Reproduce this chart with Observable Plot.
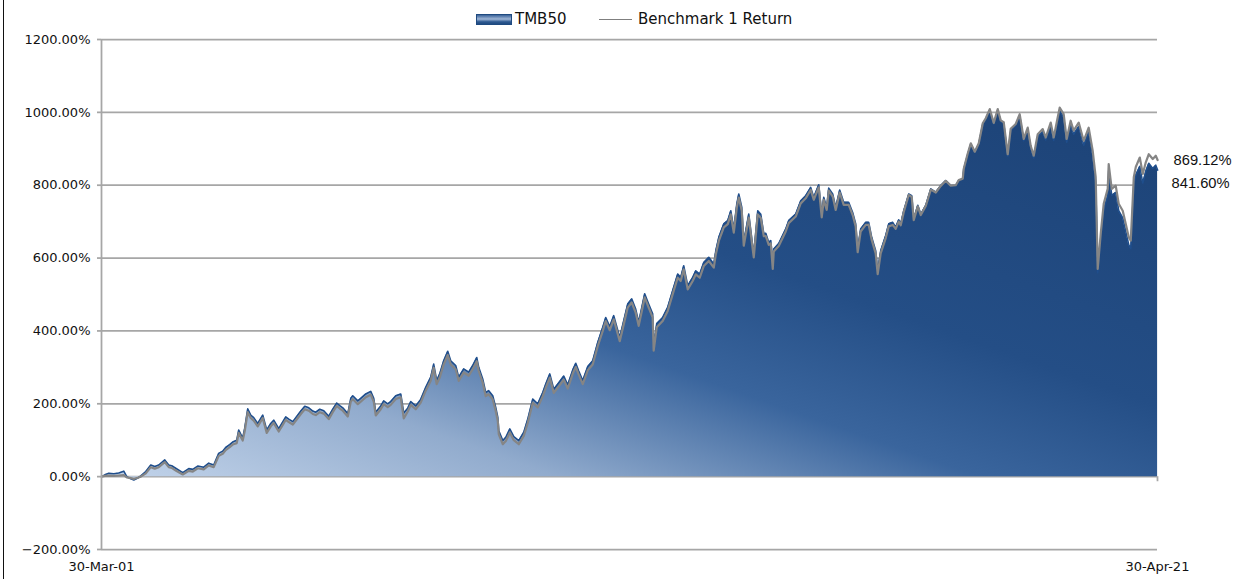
<!DOCTYPE html>
<html><head><meta charset="utf-8">
<script src="https://cdn.jsdelivr.net/npm/d3@7"></script>
<script src="https://cdn.jsdelivr.net/npm/@observablehq/plot@0.6"></script>
<style>
body{margin:0;background:#fff;}
#wrap{position:relative;width:1238px;height:579px;overflow:hidden;font-family:"DejaVu Sans",sans-serif;background:#fff;}
#border{position:absolute;left:3px;top:0;width:1px;height:579px;background:#111;z-index:5;}
#legend{position:relative;height:30px;width:1238px;}
#legend .sw{position:absolute;left:476px;top:14px;width:34px;height:9px;border:1px solid #1f4a80;
  background:linear-gradient(to bottom,#3a6399,#9fb6d6 45%,#2f5a92 75%,#1f4a80);}
#legend .ln{position:absolute;left:599px;top:18.5px;width:33px;height:0;border-top:1.5px solid #7f7f7f;}
#legend .lt{position:absolute;top:9px;font-size:15px;line-height:20px;color:#111;white-space:nowrap;}
#chart{position:relative;}
</style></head><body>
<div id="wrap"><div id="legend"></div><div id="chart"></div><div id="border"></div></div>
<script>
// decimal-year dates
const dates = [
2001.244,2001.304,2001.380,2001.475,2001.570,2001.665,2001.722,2001.799,2001.856,2001.932,2001.989,
2002.084,2002.179,2002.255,2002.331,2002.445,2002.521,2002.578,2002.654,2002.788,2002.902,2002.978,
2003.073,2003.187,2003.282,2003.377,2003.472,2003.548,2003.605,2003.681,2003.738,2003.815,2003.853,2003.929,2003.967,
2004.024,2004.081,2004.138,2004.214,2004.309,2004.385,2004.461,2004.518,2004.613,2004.689,2004.746,2004.804,2004.880,2004.975,
2005.032,2005.108,2005.184,2005.260,2005.317,2005.393,2005.469,2005.564,2005.640,2005.716,2005.774,2005.831,2005.926,2005.983,
2006.021,2006.116,2006.173,2006.268,2006.363,2006.420,2006.458,2006.553,2006.610,2006.686,2006.743,2006.839,2006.934,2006.991,
2007.067,2007.124,2007.219,2007.314,2007.409,2007.504,2007.561,2007.618,2007.675,2007.751,2007.828,2007.885,2007.980,
2008.037,2008.132,2008.227,2008.303,2008.379,2008.417,2008.493,2008.550,2008.607,2008.683,2008.740,2008.779,2008.798,2008.874,2008.931,
2009.007,2009.083,2009.178,2009.273,2009.349,2009.444,2009.539,2009.634,2009.691,2009.768,2009.844,2009.939,
2010.034,2010.110,2010.205,2010.262,2010.319,2010.395,2010.490,2010.585,2010.680,2010.776,2010.833,2010.909,2010.985,
2011.099,2011.175,2011.251,2011.327,2011.403,2011.460,2011.574,2011.650,2011.726,2011.745,2011.803,2011.917,
2012.012,2012.107,2012.202,2012.259,2012.316,2012.392,2012.487,2012.544,2012.620,2012.696,2012.792,2012.887,2012.925,2012.982,
2013.077,2013.153,2013.210,2013.267,2013.324,2013.362,2013.419,2013.457,2013.552,2013.647,2013.723,2013.781,2013.838,2013.876,2013.933,2013.971,
2014.009,2014.028,2014.123,2014.256,2014.313,2014.446,2014.541,2014.636,2014.731,2014.789,2014.884,2014.941,2014.979,
2015.036,2015.074,2015.150,2015.207,2015.283,2015.359,2015.454,2015.530,2015.587,2015.625,2015.682,2015.778,2015.835,2015.892,2015.968,
2016.006,2016.063,2016.158,2016.215,2016.291,2016.348,2016.405,2016.443,2016.500,2016.538,2016.595,2016.652,2016.690,2016.767,2016.824,2016.919,
2017.014,2017.109,2017.204,2017.299,2017.394,2017.489,2017.546,2017.622,2017.641,2017.717,2017.775,2017.851,2017.927,
2018.003,2018.060,2018.136,2018.212,2018.288,2018.345,2018.402,2018.478,2018.535,2018.630,2018.706,2018.783,2018.859,2018.916,2018.973,
2019.049,2019.144,2019.201,2019.296,2019.353,2019.429,2019.467,2019.543,2019.600,2019.676,2019.733,2019.829,2019.924,
2020.019,2020.095,2020.152,2020.171,2020.190,2020.247,2020.304,2020.380,2020.399,2020.456,2020.532,2020.589,2020.665,2020.722,2020.780,2020.818,2020.875,2020.913,2020.989,
2021.046,2021.103,2021.160,2021.236,2021.293,2021.328
];
// TMB50 cumulative return, %
const tmb50 = [
0,5,9,8,10,15,0,-6,-9,-4,2,
14,32,28,32,46,32,30,23,11,22,20,
29,26,37,32,64,70,80,88,95,100,128,106,133,
186,169,162,146,169,128,146,155,132,150,164,158,151,169,
180,193,189,180,177,185,181,166,185,202,195,189,173,215,
222,208,215,227,234,215,177,194,208,200,206,222,227,175,
188,206,194,212,245,273,309,264,282,318,344,318,305,
273,296,287,305,327,300,268,231,236,222,190,163,126,99,108,
131,110,99,122,158,213,200,231,254,282,240,258,
276,252,293,311,290,264,302,318,368,410,437,412,442,
382,428,474,488,460,424,502,474,447,360,420,437,
465,511,556,547,579,524,547,565,556,588,602,584,620,657,
694,703,730,680,748,776,740,645,721,610,730,720,667,668,643,648,
590,625,640,680,703,721,757,771,794,767,801,720,767,
739,792,776,739,787,753,753,725,694,625,680,698,698,657,620,
565,620,662,694,698,685,705,694,730,748,776,771,707,745,720,745,
790,781,799,813,799,799,813,817,844,885,913,890,913,
968,982,1006,968,1006,975,970,880,950,964,991,922,953,902,875,
934,947,924,965,923,978,1005,986,918,967,940,961,910,
946,882,808,690,560,650,732,772,840,772,780,730,710,674,636,626,800,828,852,
806,838,860,846,855,841.60
];
// Benchmark 1 Return cumulative, %
const bench1 = [
0,2,3,2,3,4,-2,-4,-6,-3,0,
9,26,22,26,40,26,24,17,6,16,14,
23,20,31,26,57,63,73,81,88,92,120,99,125,
177,161,154,138,161,120,138,147,124,142,156,150,143,161,
172,185,181,172,169,177,173,158,177,194,187,181,165,206,
213,199,206,218,225,206,168,185,199,191,197,213,218,160,
179,197,185,203,236,263,299,254,272,308,334,308,295,
263,286,277,295,317,290,258,221,226,212,180,153,116,89,98,
121,100,89,112,148,203,190,221,244,272,230,248,
266,242,283,301,280,254,292,308,358,400,427,402,432,
372,418,464,478,450,414,492,464,437,346,410,427,
455,501,546,537,569,514,537,555,546,578,592,574,610,647,
684,693,720,670,738,766,730,634,711,602,720,710,660,660,636,640,
570,618,633,673,696,714,750,764,787,760,794,712,760,
732,785,769,732,780,746,746,718,687,616,673,691,691,650,613,
556,613,655,687,691,680,700,690,726,745,773,768,704,742,718,743,
788,780,798,812,799,800,814,818,845,887,915,892,915,
970,984,1009,971,1009,978,973,885,955,968,995,927,958,908,881,
940,954,931,972,931,986,1013,995,927,977,950,972,922,
958,895,822,700,570,666,749,790,858,790,799,749,730,694,657,648,822,850,876,
831,863,885,872,881,869.12
];
const seriesNames = ["TMB50","Benchmark 1 Return"];
const yTicks = [-200,0,200,400,600,800,1000,1200];
const xTickDates = ["2001-03-30","2021-04-30"];
const xTickLabels = ["30-Mar-01","30-Apr-21"];

// legend
const lg = document.getElementById("legend");
lg.innerHTML = `<span class="sw"></span><span class="lt" style="left:515px">${seriesNames[0]}</span>
<span class="ln"></span><span class="lt" style="left:638px">${seriesNames[1]}</span>`;

function decYear(t){
  const y = Math.floor(t);
  const s = Date.UTC(y,0,1), e = Date.UTC(y+1,0,1);
  return new Date(s + (t-y)*(e-s));
}
const data = dates.map((t,i)=>({date:decYear(t), tmb:tmb50[i], bench:bench1[i]}));
const xt = xTickDates.map(s=>new Date(s+"T00:00:00Z"));
const fmt = d3.format(".2f");
const last = data[data.length-1];

const plot = Plot.plot({
  width:1238, height:549,
  marginLeft:101, marginRight:81, marginTop:9, marginBottom:30,
  style:{fontFamily:"DejaVu Sans, sans-serif", fontSize:"13px", color:"#111", background:"#fff", overflow:"visible"},
  x:{type:"utc", domain:[xt[0], xt[1]]},
  y:{domain:[-200,1200]},
  marks:[
    Plot.ruleY(yTicks,{stroke:"#a6a6a6", strokeWidth:1.75}),
    Plot.areaY(data,{x:"date", y:"tmb", fill:"url(#tmbGrad)"}),
    Plot.lineY(data,{x:"date", y:"tmb", stroke:"#1f4e8c", strokeWidth:1.6}),
    Plot.lineY(data,{x:"date", y:"bench", stroke:"#858585", strokeWidth:2.2}),
    Plot.ruleX([xt[0]],{y1:-200, y2:1200, stroke:"#a6a6a6", strokeWidth:1.75}),
    Plot.ruleX([xt[1]],{y1:0, y2:-14, stroke:"#a6a6a6", strokeWidth:1.75}),
    Plot.axisY({ticks:yTicks, tickFormat:d=>fmt(d)+"%", tickSize:4, tickPadding:7, stroke:"#a6a6a6", strokeWidth:1.75, fill:"#111", label:null}),
    Plot.axisX({ticks:xt, tickFormat:d=>xTickLabels[xt.findIndex(t=>+t===+d)], tickSize:0, tickPadding:12, fill:"#111", label:null}),
    Plot.text([last],{x:"date", y:"bench", text:d=>fmt(d.bench)+"%", dx:16, textAnchor:"start", fontFamily:"Liberation Sans, sans-serif", fontSize:14.7, fill:"#111"}),
    Plot.text([last],{x:"date", y:"tmb", text:d=>fmt(d.tmb)+"%", dx:14, dy:13, textAnchor:"start", fontFamily:"Liberation Sans, sans-serif", fontSize:14.7, fill:"#111"})
  ]
});
const ns = "http://www.w3.org/2000/svg";
const defs = document.createElementNS(ns,"defs");
defs.innerHTML = `<linearGradient id="tmbGrad" x1="0" y1="1" x2="1" y2="0">
<stop offset="0" stop-color="#c4d5eb"/>
<stop offset="0.22" stop-color="#91abcd"/>
<stop offset="0.42" stop-color="#3a659d"/>
<stop offset="0.6" stop-color="#244e86"/>
<stop offset="1" stop-color="#1c4276"/>
</linearGradient>`;
plot.insertBefore(defs, plot.firstChild);
document.getElementById("chart").appendChild(plot);
</script>
</body></html>
